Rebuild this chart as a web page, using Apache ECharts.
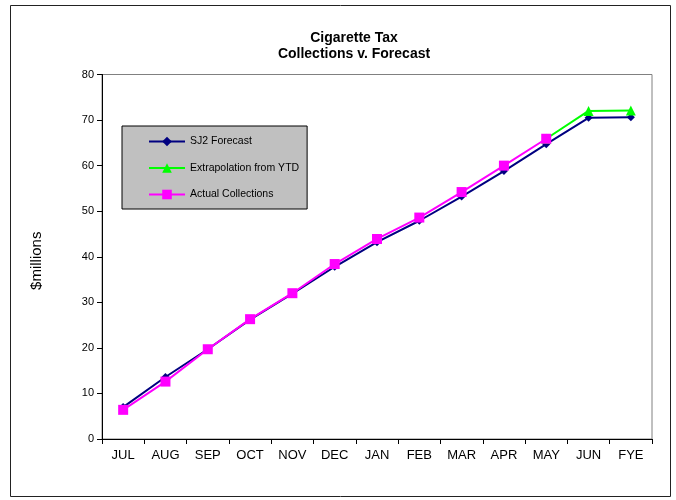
<!DOCTYPE html>
<html>
<head>
<meta charset="utf-8">
<script src="https://cdn.jsdelivr.net/npm/echarts@6/dist/echarts.min.js"></script>
<style>html,body{margin:0;padding:0;background:#fff}#c{width:676px;height:500px}</style>
</head>
<body>
<div id="c"></div>
<script>
var categories = ['JUL','AUG','SEP','OCT','NOV','DEC','JAN','FEB','MAR','APR','MAY','JUN','FYE'];
var forecast = [7.0, 13.6, 19.7, 26.2, 31.9, 37.8, 43.2, 47.9, 53.2, 58.8, 64.7, 70.5, 70.6];
var extrapolation = [null, null, null, null, null, null, null, null, null, null, 65.9, 72.0, 72.1];
var actual = [6.4, 12.6, 19.7, 26.3, 32.0, 38.4, 43.9, 48.6, 54.2, 60.0, 65.9, null, null];
var yTicks = [0, 10, 20, 30, 40, 50, 60, 70, 80];

var chart = echarts.init(document.getElementById('c'));
var font = 'Arial, "Liberation Sans", sans-serif';
chart.setOption({
  backgroundColor: '#fff',
  animation: false,
  title: {
    text: 'Cigarette Tax\nCollections v. Forecast',
    left: 349, top: 25, textAlign: 'center',
    textStyle: {fontFamily: font, fontSize: 14, fontWeight: 'bold', color: '#000', lineHeight: 16}
  },
  graphic: [{
    type: 'rect', shape: {x: 10.5, y: 5.5, width: 660, height: 491},
    style: {fill: 'none', stroke: '#222', lineWidth: 1}, silent: true, z: -1
  }],
  legend: {
    orient: 'vertical', left: 122, top: 126,
    backgroundColor: '#c0c0c0', borderColor: '#000', borderWidth: 1,
    padding: [10, 8, 9, 26], itemGap: 15.5, itemWidth: 36, itemHeight: 12,
    textStyle: {fontFamily: font, fontSize: 10.5, color: '#000'},
    data: ['SJ2 Forecast', 'Extrapolation from YTD', 'Actual Collections']
  },
  grid: {left: 102, top: 74.5, right: 24, bottom: 61, show: true, borderColor: '#808080', borderWidth: 1, backgroundColor: '#fff'},
  xAxis: {
    type: 'category', data: categories, boundaryGap: true,
    axisLine: {lineStyle: {color: '#000', width: 1}},
    axisTick: {show: true, length: 5, inside: false, lineStyle: {color: '#000'}},
    axisLabel: {fontFamily: font, fontSize: 13, color: '#000', margin: 10}
  },
  yAxis: {
    type: 'value', min: 0, max: 80, interval: 10,
    name: '$millions', nameLocation: 'middle', nameGap: 58,
    nameTextStyle: {fontFamily: font, fontSize: 15, color: '#000', padding: [0, 0, 0, -8]},
    axisLine: {show: true, lineStyle: {color: '#000', width: 1}},
    axisTick: {show: true, length: 5, lineStyle: {color: '#000'}},
    splitLine: {show: false},
    axisLabel: {fontFamily: font, fontSize: 11, color: '#000', margin: 8,
      formatter: function (v) { return yTicks.indexOf(v) >= 0 ? String(v) : ''; }}
  },
  series: [
    {name: 'SJ2 Forecast', type: 'line', data: forecast, symbol: 'diamond', symbolSize: 8,
     lineStyle: {color: '#000080', width: 2}, itemStyle: {color: '#000080'}, z: 2},
    {name: 'Extrapolation from YTD', type: 'line', data: extrapolation, symbol: 'triangle', symbolSize: 10,
     lineStyle: {color: '#00ff00', width: 2}, itemStyle: {color: '#00ff00'}, z: 3},
    {name: 'Actual Collections', type: 'line', data: actual, symbol: 'rect', symbolSize: 10,
     lineStyle: {color: '#ff00ff', width: 2}, itemStyle: {color: '#ff00ff'}, z: 4}
  ]
});
</script>
</body>
</html>
